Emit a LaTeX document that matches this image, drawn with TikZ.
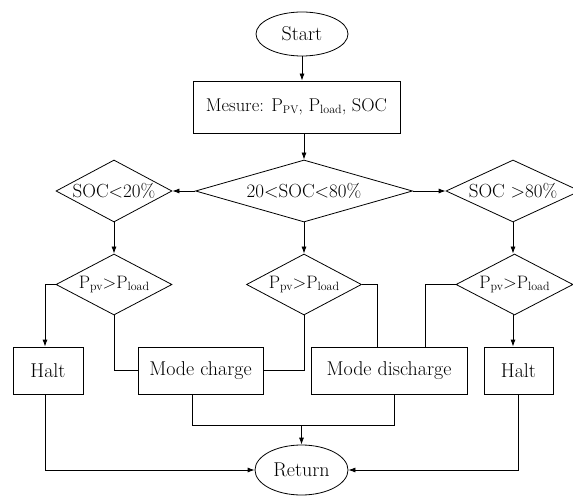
\documentclass[tikz,border=0pt]{standalone}
\usetikzlibrary{shapes.geometric,arrows.meta}
\newcommand\sbx[2]{\raisebox{-0.25ex}{\fontsize{#1}{#1}\selectfont #2}}
\begin{document}
\begin{tikzpicture}[x=1pt,y=-1pt, line width=0.8pt,
  txt/.style={font=\fontsize{20}{23}\selectfont},
  dtxt/.style={font=\fontsize{19}{22}\selectfont},
  box/.style={draw, rectangle, inner sep=0pt, txt},
  oval/.style={draw, ellipse, inner sep=0pt, txt},
  dia/.style={draw, diamond, inner sep=0pt},
  ptxt/.style={font=\fontsize{18}{21}\selectfont},
  arr/.style={-{Latex[length=7pt,width=5pt]}}]
\useasboundingbox (0,0) rectangle (573,497);
\clip (0,0) rectangle (573,497);
\node[oval, minimum width=92pt, minimum height=44pt] (start) at (302,34) {Start};
\node[box, minimum width=207pt, minimum height=52pt, font=\fontsize{18.5}{21}\selectfont] (mes) at (296.5,107) {Mesure: P\sbx{11}{PV}, P\sbx{12}{load}, SOC};
\node[dia, minimum width=217pt, minimum height=62pt] (dmid) at (304,191) {};
\node[dtxt] (tmid) at (dmid) {20<SOC<80\%};
\node[dia, minimum width=116pt, minimum height=62pt] (dlow) at (114,191) {};
\node[dtxt] (tlow) at (dlow) {SOC<20\%};
\node[dia, minimum width=134pt, minimum height=62pt] (dhigh) at (513,191) {};
\node[dtxt] (thigh) at (dhigh) {SOC >80\%};
\node[dia, minimum width=116pt, minimum height=61pt] (p1) at (114,284.5) {};
\node[ptxt] (tp1) at (p1) {P\sbx{12}{pv}>P\sbx{12}{load}};
\node[dia, minimum width=115pt, minimum height=61pt] (p2) at (304,284.5) {};
\node[ptxt] (tp2) at (p2) {P\sbx{12}{pv}>P\sbx{12}{load}};
\node[dia, minimum width=117pt, minimum height=61pt] (p3) at (514.5,284.5) {};
\node[ptxt] (tp3) at (p3) {P\sbx{12}{pv}>P\sbx{12}{load}};
\node[box, minimum width=70pt, minimum height=47pt] (halt1) at (48,370.5) {Halt};
\node[box, minimum width=125pt, minimum height=47pt] (mc) at (200.5,370.5) {Mode charge};
\node[box, minimum width=156pt, minimum height=47pt] (md) at (389,370.5) {Mode discharge};
\node[box, minimum width=69pt, minimum height=47pt] (halt2) at (518.5,370.5) {Halt};
\node[oval, minimum width=93pt, minimum height=50pt] (ret) at (301.5,470) {Return};
\coordinate (j) at (301.5,425);
\draw[arr] (start.south) -- (start.south |- mes.north);
\draw[arr] (mes.south -| dmid.north) -- (dmid.north);
\draw[arr] (dmid.west) -- (dlow.east);
\draw[arr] (dmid.east) -- (dhigh.west);
\draw[arr] (dlow.south) -- (p1.north);
\draw[arr] (dmid.south) -- (p2.north);
\draw[arr] (dhigh.south) -- (p3.north -| dhigh.south);
\draw[arr] (p1.west) -| ([xshift=-3pt]halt1.north);
\draw (p1.south) |- (mc.west);
\draw (p2.south) |- (mc.east);
\draw (p2.east) -| ([xshift=-12pt]md.north);
\draw (p3.west) -| ([xshift=36pt]md.north);
\draw[arr] (p3.south -| dhigh.south) -- (dhigh.south |- halt2.north);
\draw ([xshift=-8.5pt]mc.south) |- (j);
\draw ([xshift=5pt]md.south) |- (j);
\draw[arr] (j) -- (ret.north);
\draw[arr] ([xshift=-3pt]halt1.south) |- (ret.west);
\draw[arr] (halt2.south) |- (ret.east);
\end{tikzpicture}
\end{document}
